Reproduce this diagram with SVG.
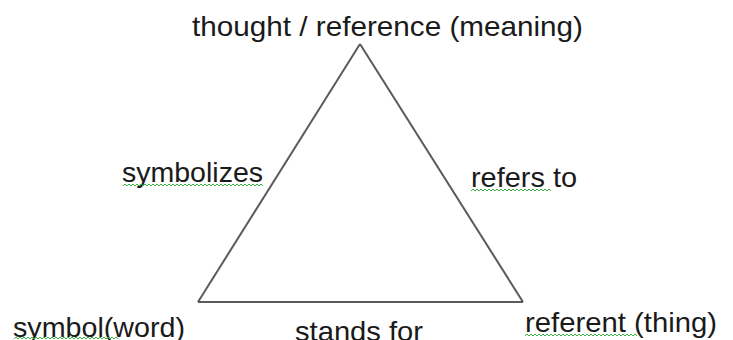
<svg xmlns="http://www.w3.org/2000/svg" width="733" height="340" viewBox="0 0 733 340">
<style>
text{font-family:"Liberation Sans",Arial,sans-serif;font-size:28px;fill:#1a1a1a}
.edge{stroke:#5a5a5a;stroke-width:2;fill:none;stroke-linejoin:miter}
.sq{stroke:#3cb043;stroke-width:1;fill:none}
</style>
<rect width="733" height="340" fill="#fff"/>
<g id="connectors">
<line class="edge" x1="360" y1="44" x2="198" y2="302"/>
<line class="edge" x1="360" y1="44" x2="523" y2="302"/>
<line class="edge" x1="198" y1="302" x2="523" y2="302"/>
<g id="label-symbolizes">
<text x="122" y="182" textLength="141" lengthAdjust="spacingAndGlyphs">symbolizes</text>
<path class="sq" d="M123 186 l2 -2 l2 2 l2 -2 l2 2 l2 -2 l2 2 l2 -2 l2 2 l2 -2 l2 2 l2 -2 l2 2 l2 -2 l2 2 l2 -2 l2 2 l2 -2 l2 2 l2 -2 l2 2 l2 -2 l2 2 l2 -2 l2 2 l2 -2 l2 2 l2 -2 l2 2 l2 -2 l2 2 l2 -2 l2 2 l2 -2 l2 2 l2 -2 l2 2 l2 -2 l2 2 l2 -2 l2 2 l2 -2 l2 2 l2 -2 l2 2 l2 -2 l2 2 l2 -2 l2 2 l2 -2 l2 2 l2 -2 l2 2 l2 -2 l2 2 l2 -2 l2 2 l2 -2 l2 2 l2 -2 l2 2 l2 -2 l2 2 l2 -2 l2 2 l2 -2 l2 2 l2 -2 l2 2 l2 -2 l2 2"/>
</g>
<g id="label-refers-to">
<text x="471" y="187" textLength="106" lengthAdjust="spacingAndGlyphs">refers to</text>
<path class="sq" d="M471 191 l2 -2 l2 2 l2 -2 l2 2 l2 -2 l2 2 l2 -2 l2 2 l2 -2 l2 2 l2 -2 l2 2 l2 -2 l2 2 l2 -2 l2 2 l2 -2 l2 2 l2 -2 l2 2 l2 -2 l2 2 l2 -2 l2 2 l2 -2 l2 2 l2 -2 l2 2 l2 -2 l2 2 l2 -2 l2 2 l2 -2 l2 2 l2 -2 l2 2 l2 -2 l2 2 l2 -2 l2 2"/>
</g>
<g id="label-stands-for">
<text x="295" y="341" textLength="128" lengthAdjust="spacingAndGlyphs">stands for</text>
</g>
</g>
<g id="node-thought">
<text x="192" y="36" textLength="391" lengthAdjust="spacingAndGlyphs">thought / reference (meaning)</text>
</g>
<g id="node-symbol">
<text x="13" y="337" textLength="172" lengthAdjust="spacingAndGlyphs">symbol(word)</text>
<path class="sq" d="M14 339 l2 -2 l2 2 l2 -2 l2 2 l2 -2 l2 2 l2 -2 l2 2 l2 -2 l2 2 l2 -2 l2 2 l2 -2 l2 2 l2 -2 l2 2 l2 -2 l2 2 l2 -2 l2 2 l2 -2 l2 2 l2 -2 l2 2 l2 -2 l2 2 l2 -2 l2 2 l2 -2 l2 2 l2 -2 l2 2 l2 -2 l2 2 l2 -2 l2 2 l2 -2 l2 2 l2 -2 l2 2 l2 -2 l2 2 l2 -2 l2 2 l2 -2 l2 2 l2 -2 l2 2 l2 -2 l2 2 l2 -2 l2 2"/>
</g>
<g id="node-referent">
<text x="525" y="332" textLength="192" lengthAdjust="spacingAndGlyphs">referent (thing)</text>
<path class="sq" d="M525 336 l2 -2 l2 2 l2 -2 l2 2 l2 -2 l2 2 l2 -2 l2 2 l2 -2 l2 2 l2 -2 l2 2 l2 -2 l2 2 l2 -2 l2 2 l2 -2 l2 2 l2 -2 l2 2 l2 -2 l2 2 l2 -2 l2 2 l2 -2 l2 2 l2 -2 l2 2 l2 -2 l2 2 l2 -2 l2 2 l2 -2 l2 2 l2 -2 l2 2 l2 -2 l2 2 l2 -2 l2 2 l2 -2 l2 2 l2 -2 l2 2 l2 -2 l2 2 l2 -2 l2 2 l2 -2 l2 2 l2 -2 l2 2 l2 -2 l2 2 l2 -2 l2 2"/>
</g>
</svg>
